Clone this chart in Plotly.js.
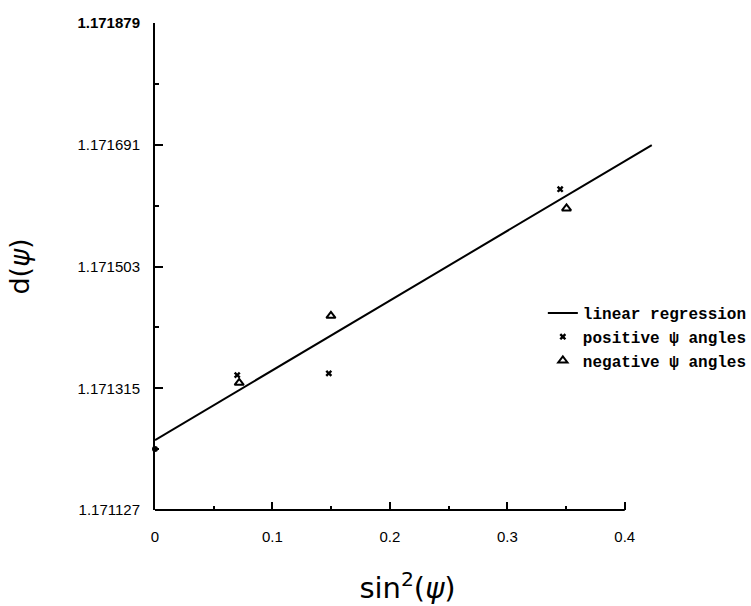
<!DOCTYPE html>
<html>
<head>
<meta charset="utf-8">
<script src="https://cdn.plot.ly/plotly-3.0.1.min.js"></script>
<style>html,body{margin:0;padding:0;background:#fff;}#chart{width:751px;height:606px;}</style>
</head>
<body>
<div id="chart"></div>
<script>
// Data
const regX = [0, 0.423];
const regY = [1.171235, 1.1716905];

const posX = [0.070, 0.148, 0.345];
const posY = [1.1713353, 1.171338, 1.1716224];

const negX = [0.0717, 0.1498, 0.3504];
const negY = [1.1713234, 1.1714268, 1.1715926];

const zeroX = [0];
const zeroY = [1.1712211];

const xTickVals = [0, 0.1, 0.2, 0.3, 0.4];
const xTickText = ['0', '0.1', '0.2', '0.3', '0.4'];
const xMinorVals = [0.05, 0.15, 0.25, 0.35];
const yTickVals = [1.171127, 1.171315, 1.171503, 1.171691, 1.171879];
const yTickText = ['1.171127', '1.171315', '1.171503', '1.171691', '<b>1.171879</b>'];
const yMinorVals = [1.171221, 1.171409, 1.171597, 1.171785];

const traces = [
  {x: regX, y: regY, type: 'scatter', mode: 'lines', name: 'linear regression',
   line: {color: '#000', width: 2}},
  {x: posX, y: posY, type: 'scatter', mode: 'markers', name: 'positive ψ angles',
   marker: {symbol: 'x', size: 6, color: '#000'}, cliponaxis: false},
  {x: negX, y: negY, type: 'scatter', mode: 'markers', name: 'negative ψ angles',
   marker: {symbol: 'triangle-up-open', size: 8, color: '#000', line: {width: 2, color: '#000'}}, cliponaxis: false},
  {x: zeroX, y: zeroY, type: 'scatter', mode: 'markers', showlegend: false,
   marker: {symbol: 'circle', size: 6, color: '#000'}, cliponaxis: false}
];

const layout = {
  width: 751, height: 606,
  margin: {l: 155, r: 91, t: 23, b: 96, autoexpand: false},
  paper_bgcolor: '#fff', plot_bgcolor: '#fff',
  showlegend: true,
  legend: {x: 0.768, y: 0.4394, xanchor: 'left', yanchor: 'top', bgcolor: 'rgba(0,0,0,0)',
    font: {family: 'Liberation Mono', size: 16, color: '#000', weight: 'bold'},
    tracegroupgap: 0, itemwidth: 30},
  xaxis: {
    range: [0, 0.43], showgrid: false, zeroline: false, showline: false,
    tickmode: 'array', tickvals: xTickVals, ticktext: xTickText,
    ticks: 'inside', ticklen: 8, tickwidth: 2, tickcolor: '#000',
    minor: {tickmode: 'array', tickvals: xMinorVals, ticks: 'inside', ticklen: 4, tickwidth: 2, tickcolor: '#000', showgrid: false},
    ticklabelstandoff: 16,
    tickfont: {family: 'Liberation Sans', size: 15, color: '#000'},
    title: {text: 'sin<sup>2</sup>(<i>ψ</i>)', font: {family: 'DejaVu Sans', size: 29, color: '#000'}, standoff: 33}
  },
  yaxis: {
    range: [1.171127, 1.171879], showgrid: false, zeroline: false,
    showline: true, linecolor: '#000', linewidth: 2,
    tickmode: 'array', tickvals: yTickVals, ticktext: yTickText,
    ticks: 'inside', ticklen: 8, tickwidth: 2, tickcolor: '#000',
    minor: {tickmode: 'array', tickvals: yMinorVals, ticks: 'inside', ticklen: 4, tickwidth: 2, tickcolor: '#000', showgrid: false},
    ticklabelstandoff: 10,
    tickfont: {family: 'Liberation Sans', size: 15, color: '#000'},
    title: {text: 'd(<i>ψ</i>)', font: {family: 'DejaVu Sans', size: 27, color: '#000'}, standoff: 40}
  },
  shapes: [
    {type: 'line', xref: 'x', yref: 'paper', x0: 0, x1: 0.4, y0: 0, y1: 0,
     line: {color: '#000', width: 2}}
  ]
};

Plotly.newPlot('chart', traces, layout, {displayModeBar: false, staticPlot: true});
</script>
</body>
</html>
